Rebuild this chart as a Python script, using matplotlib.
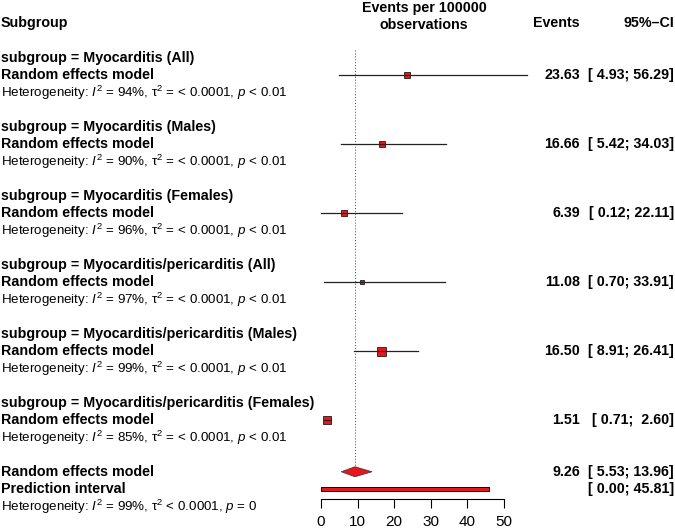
import matplotlib
matplotlib.use("Agg")
import matplotlib.pyplot as plt
from matplotlib.patches import Polygon, Rectangle

plt.rcParams['font.family'] = ['Liberation Sans', 'DejaVu Sans']
plt.rcParams['mathtext.fontset'] = 'custom'
plt.rcParams['mathtext.rm'] = 'Liberation Sans'
plt.rcParams['mathtext.it'] = 'Liberation Sans:italic'
plt.rcParams['mathtext.bf'] = 'Liberation Sans:bold'

# data
subgroups = ["Myocarditis (All)", "Myocarditis (Males)", "Myocarditis (Females)",
             "Myocarditis/pericarditis (All)", "Myocarditis/pericarditis (Males)",
             "Myocarditis/pericarditis (Females)"]
estimates = [23.63, 16.66, 6.39, 11.08, 16.50, 1.51]
ci_lower = [4.93, 5.42, 0.12, 0.70, 8.91, 0.71]
ci_upper = [56.29, 34.03, 22.11, 33.91, 26.41, 2.60]
i2 = [94, 90, 96, 97, 99, 85]
overall = 9.26
overall_ci = [5.53, 13.96]
pred_int = [0.00, 45.81]
overall_i2 = 99
xticks = [0, 10, 20, 30, 40, 50]

# square size (px) per subgroup, roughly as drawn
sq_px = [5.5, 5.5, 6, 5, 9, 7.5]

RED = '#e8161c'
FS = 10.3
FS_HET = 9.6

fig = plt.figure(figsize=(6.75, 5.31), dpi=100)
ax = fig.add_axes([0, 0, 1, 1])
ax.set_xlim(-321 / 3.66, (675 - 321) / 3.66)
ax.set_ylim((531 - 75) / 17.25 + 4, (0 - 75) / 17.25 + 4)

for s in ['top', 'left', 'right']:
    ax.spines[s].set_visible(False)
ax.spines['bottom'].set_position(('data', 28.58))
ax.spines['bottom'].set_bounds(0, 50)
ax.spines['bottom'].set_linewidth(0.8)
ax.set_xticks(xticks)
ax.set_yticks([])
ax.tick_params(axis='x', direction='out', length=6.5, width=0.8, pad=5, labelsize=11)

x_lab = -87.5
x_ev = (580 - 321) / 3.66
x_ci = (674 - 321) / 3.66
x_mid = (424 - 321) / 3.66


def het(i2_val, tail):
    return "Heterogeneity: $I^2$ = %d%%, \u03c4$^2$ %s" % (i2_val, tail)


# header
ax.text(x_lab, 1, "Subgroup", fontsize=FS, fontweight='bold', va='center', ha='left')
ax.text(x_mid, 0.1, "Events per 100000", fontsize=FS, fontweight='bold', va='center', ha='center')
ax.text(x_mid, 1.1, "observations", fontsize=FS, fontweight='bold', va='center', ha='center')
ax.text(x_ev, 1, "Events", fontsize=FS, fontweight='bold', va='center', ha='right')
ax.text(x_ci, 1, "95%\u2013CI", fontsize=FS, fontweight='bold', va='center', ha='right')

# reference line at the pooled estimate
ax.plot([overall, overall], [2.55, 26.7], color='#444444', lw=0.7, ls=(0, (1, 2)))

for k, name in enumerate(subgroups):
    r = 4 + 4 * k
    ax.text(x_lab, r - 1, "subgroup = " + name, fontsize=FS, fontweight='bold', va='center')
    ax.text(x_lab, r, "Random effects model", fontsize=FS, fontweight='bold', va='center')
    ax.text(x_lab, r + 1.05, het(i2[k], "= < 0.0001, $p$ < 0.01"), fontsize=FS_HET, va='center')
    ax.plot([ci_lower[k], ci_upper[k]], [r, r], color='#222222', lw=0.9, zorder=3)
    ax.plot([estimates[k]], [r], marker='s', ms=sq_px[k] * 0.72, mfc=RED, mec='black',
            mew=0.5, zorder=2)
    ax.text(x_ev, r, "%.2f" % estimates[k], fontsize=FS, fontweight='bold', va='center', ha='right')
    ax.text(x_ci, r, "[%5.2f; %5.2f]" % (ci_lower[k], ci_upper[k]), fontsize=FS,
            fontweight='bold', va='center', ha='right')

# overall
r = 27
ax.text(x_lab, r, "Random effects model", fontsize=FS, fontweight='bold', va='center')
ax.text(x_lab, r + 1, "Prediction interval", fontsize=FS, fontweight='bold', va='center')
ax.text(x_lab, r + 2.05, het(overall_i2, "< 0.0001, $p$ = 0"), fontsize=FS_HET, va='center')
h = 0.29
ax.add_patch(Polygon([[overall_ci[0], r], [overall, r - h], [overall_ci[1], r], [overall, r + h]],
                     closed=True, facecolor=RED, edgecolor='#333333', lw=0.5, zorder=3))
ax.add_patch(Rectangle((pred_int[0], r + 1 - 0.12), pred_int[1] - pred_int[0], 0.24,
                       facecolor=RED, edgecolor='black', lw=0.7, zorder=3))
ax.text(x_ev, r, "%.2f" % overall, fontsize=FS, fontweight='bold', va='center', ha='right')
ax.text(x_ci, r, "[%5.2f; %5.2f]" % tuple(overall_ci), fontsize=FS, fontweight='bold',
        va='center', ha='right')
ax.text(x_ci, r + 1, "[%5.2f; %5.2f]" % tuple(pred_int), fontsize=FS, fontweight='bold',
        va='center', ha='right')

fig.savefig("out.png", dpi=100)
